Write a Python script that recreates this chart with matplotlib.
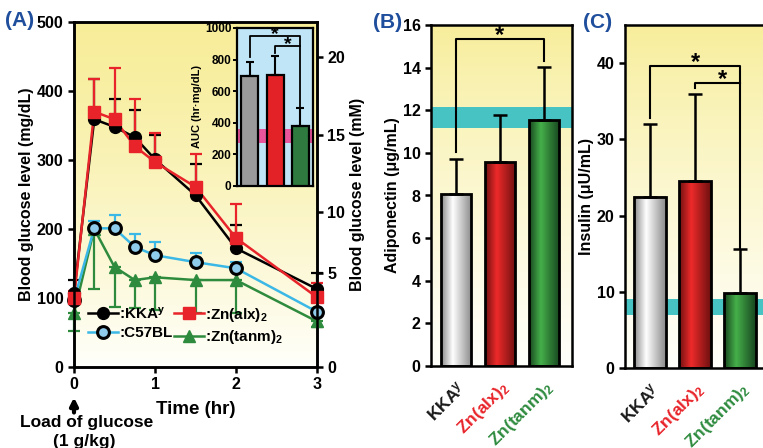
import numpy as np
import matplotlib
matplotlib.use("Agg")
import matplotlib.pyplot as plt
from matplotlib.colors import LinearSegmentedColormap
from matplotlib.lines import Line2D

plt.rcParams["font.family"] = ["Liberation Sans", "DejaVu Sans"]
plt.rcParams["font.weight"] = "bold"
plt.rcParams["mathtext.fontset"] = "custom"
plt.rcParams["mathtext.rm"] = "Liberation Sans:bold"
plt.rcParams["mathtext.it"] = "Liberation Sans:bold"
plt.rcParams["mathtext.bf"] = "Liberation Sans:bold"
plt.rcParams["axes.linewidth"] = 1.8

# ---- data ----
time_hr = [0, 0.25, 0.5, 0.75, 1, 1.5, 2, 3]
kkay = [107, 359, 348, 333, 301, 249, 172, 113]
kkay_err = [19, 58, 40, 39, 35, 45, 34, 23]
alx = [100, 370, 359, 320, 297, 261, 187, 101]
alx_err = [10, 47, 74, 68, 42, 47, 49, 21]
c57 = [97, 201, 201, 174, 162, 152, 143, 80]
c57_err = [8, 11, 19, 19, 19, 13, 9, 6]
tanm = [78, 200, 145, 126, 130, 126, 126, 66]
tanm_err = [26, 87, 58, 40, 47, 48, 48, 8]   # drawn downward

mM_ticks = ["0", "5", "10", "15", "20"]
mM_pos = [0, 136, 225, 336, 449]  # where the original puts them, in mg/dL units

groups = [r"KKA$^{y}$", r"Zn(alx)$_{2}$", r"Zn(tanm)$_{2}$"]
group_colors = ["#1a1a1a", "#e8242a", "#2e8b3e"]
auc = [695, 705, 380]
auc_err = [90, 120, 115]
auc_normal = (270, 360)
adipo = [8.05, 9.55, 11.55]
adipo_err = [1.65, 2.25, 2.5]
adipo_normal = (11.15, 12.15)
insulin = [22.5, 24.5, 9.8]
insulin_err = [9.5, 11.5, 5.8]
insulin_normal = (7.0, 9.0)

BLUE_LBL = "#1f4e9c"
CYAN = "#48c3c3"


def yellow_bg(ax, top=(0.97, 0.93, 0.60), bottom=(1.0, 1.0, 0.985), power=1.3):
    t = np.linspace(0, 1, 256) ** power
    rgb = np.array(top)[None, :] * (1 - t[:, None]) + np.array(bottom)[None, :] * t[:, None]
    ax.imshow(rgb[:, None, :], extent=(0, 1, 0, 1), transform=ax.transAxes,
              aspect="auto", zorder=0, interpolation="bilinear")


def shaded_bars(ax, vals, errs, width, shades):
    x = np.arange(len(vals))
    bars = ax.bar(x, vals, width, facecolor="none", edgecolor="black", lw=2.0, zorder=3)
    for b, (dark, light) in zip(bars, shades):
        cmap = LinearSegmentedColormap.from_list("s", [(0, dark), (0.38, light), (1, dark)])
        x0, y0 = b.get_x(), b.get_y()
        im = ax.imshow(np.linspace(0, 1, 128)[None, :], cmap=cmap, aspect="auto",
                       extent=(x0, x0 + b.get_width(), y0, y0 + b.get_height()), zorder=2)
        im.set_clip_path(b)
    ax.errorbar(x, vals, yerr=[np.zeros(len(vals)), errs], fmt="none", ecolor="black",
                elinewidth=1.8, capsize=5, capthick=1.8, zorder=4)


def bracket(ax, x0, x1, y, y0_end, y1_end, lw=1.5):
    ax.plot([x0, x0, x1, x1], [y0_end, y, y, y1_end], color="black", lw=lw, zorder=5,
            clip_on=False)


fig = plt.figure(figsize=(7.63, 4.48), dpi=100)

# ================= Panel A =================
axA = fig.add_axes([74 / 763, 1 - 367 / 448, 243 / 763, 345 / 448])
yellow_bg(axA)
series = [
    (tanm, tanm_err, "down", "#2e8b3e", "^", "#2e8b3e", "#2e8b3e", r":Zn(tanm)$_{2}$"),
    (c57, c57_err, "up", "#3cb8e6", "o", "#8fcbea", "black", ":C57BL"),
    (kkay, kkay_err, "up", "black", "o", "black", "black", r":KKA$^{y}$"),
    (alx, alx_err, "up", "#e8242a", "s", "#e8242a", "#e8242a", r":Zn(alx)$_{2}$"),
]
handles = {}
for vals, err, d, col, mk, fc, ec, lab in series:
    zeros = np.zeros(len(err))
    yerr = [err, zeros] if d == "down" else [zeros, err]
    axA.errorbar(time_hr, vals, yerr=yerr, fmt="none", ecolor=col, elinewidth=1.6,
                 capsize=4, capthick=1.6, zorder=3, clip_on=False)
    axA.plot(time_hr, vals, color=col, lw=1.8, zorder=4, clip_on=False)
    ms = 8.5 if mk != "s" else 8
    mew = 2.2 if mk == "o" and fc != "black" else 1.0
    axA.plot(time_hr, vals, ls="none", marker=mk, ms=ms, mfc=fc, mec=ec, mew=mew,
             zorder=5, clip_on=False)
    handles[lab] = Line2D([], [], color=col, lw=1.8, marker=mk, ms=ms, mfc=fc, mec=ec,
                          mew=mew)
axA.set_xlim(0, 3)
axA.set_ylim(0, 500)
axA.set_xticks([0, 1, 2, 3])
axA.set_yticks(range(0, 501, 100))
axA.tick_params(direction="out", length=4, width=1.8, labelsize=11.5)
axA.set_ylabel("Blood glucose level (mg/dL)", fontsize=11.5, fontweight="bold", labelpad=2)
axA.set_xlabel("Time (hr)", fontsize=13.5, fontweight="bold", labelpad=6)
order = [r":KKA$^{y}$", ":C57BL", r":Zn(alx)$_{2}$", r":Zn(tanm)$_{2}$"]
axA.legend([handles[k] for k in order], order, ncol=2, loc="lower left",
           bbox_to_anchor=(0.0, 0.02), frameon=False, fontsize=11,
           handlelength=2.0, handletextpad=0.05, columnspacing=0.1, labelspacing=0.3)

axA2 = axA.twinx()
axA2.set_ylim(0, 500)
axA2.set_yticks(mM_pos)
axA2.set_yticklabels(mM_ticks)
axA2.tick_params(direction="out", length=4, width=1.8, labelsize=11.5)
axA2.set_ylabel("Blood glucose level (mM)", fontsize=11.5, fontweight="bold", labelpad=3)

fig.text(5 / 763, 1 - 21 / 448, "(A)", color=BLUE_LBL, fontsize=15, fontweight="bold",
         va="center", ha="left")
axA.annotate("", xy=(0, -0.08), xytext=(0, -0.14), xycoords="axes fraction",
             arrowprops=dict(arrowstyle="-|>", color="black", lw=3, mutation_scale=11),
             annotation_clip=False)
fig.text(87 / 763, 1 - 422 / 448, "Load of glucose", fontsize=12.5, fontweight="bold",
         ha="center", va="center")
fig.text(84 / 763, 1 - 441 / 448, "(1 g/kg)", fontsize=12.5, fontweight="bold",
         ha="center", va="center")

# inset AUC
axI = fig.add_axes([237 / 763, 1 - 186 / 448, 76 / 763, 158 / 448])
axI.set_facecolor("#bfe5f6")
axI.axhspan(*auc_normal, color="#e9559a", lw=0, zorder=1)
xi = np.arange(len(auc))
axI.bar(xi, auc, 0.67, color=["#9a9a9a", "#e32227", "#2f7a3e"], edgecolor="black",
        lw=1.6, zorder=3)
axI.errorbar(xi, auc, yerr=[np.zeros(3), auc_err], fmt="none", ecolor="black",
             elinewidth=1.5, capsize=3, capthick=1.5, zorder=4)
bracket(axI, 0, 2, 949, 816, 495, lw=1.3)
bracket(axI, 1, 2, 886, 842, 886, lw=1.3)
axI.text(1.0, 905, "*", ha="center", va="bottom", fontsize=14, fontweight="bold")
axI.text(1.5, 842, "*", ha="center", va="bottom", fontsize=14, fontweight="bold")
axI.set_xlim(-0.51, 2.5)
axI.set_ylim(0, 1000)
axI.set_xticks([])
axI.set_yticks(range(0, 1001, 200))
axI.tick_params(direction="out", length=3, width=1.4, labelsize=8.5, pad=1)
for s in axI.spines.values():
    s.set_linewidth(1.6)
axI.set_ylabel("AUC (hr·mg/dL)", fontsize=8, fontweight="bold", labelpad=2)

# ================= Panel B =================
axB = fig.add_axes([431 / 763, 1 - 366 / 448, 141 / 763, 341 / 448])
yellow_bg(axB, power=0.8)
axB.axhspan(*adipo_normal, color=CYAN, lw=0, zorder=1)
shades = [("#8a8a8a", "#ffffff"), ("#6e1010", "#ee2a2a"), ("#17451f", "#45b04a")]
shaded_bars(axB, adipo, adipo_err, 0.7, shades)
bracket(axB, 0, 2, 15.35, 10.05, 14.3)
axB.text(1.0, 14.95, "*", ha="center", va="bottom", fontsize=17, fontweight="bold")
axB.set_xlim(-0.57, 2.64)
axB.set_ylim(0, 16)
axB.set_yticks(range(0, 17, 2))
axB.set_xticks(range(3))
axB.set_xticklabels(groups, rotation=45, ha="right", rotation_mode="anchor", fontsize=12.5)
for lbl, c in zip(axB.get_xticklabels(), group_colors):
    lbl.set_color(c)
axB.tick_params(axis="y", direction="out", length=4, width=1.8, labelsize=11.5)
axB.tick_params(axis="x", length=0, pad=9)
axB.set_ylabel("Adiponectin (μg/mL)", fontsize=11.5, fontweight="bold", labelpad=2)
fig.text(373 / 763, 1 - 22 / 448, "(B)", color=BLUE_LBL, fontsize=15, fontweight="bold",
         va="center", ha="left")

# ================= Panel C =================
axC = fig.add_axes([625 / 763, 1 - 368 / 448, 180 / 763, 343 / 448])
yellow_bg(axC, power=0.8)
axC.axhspan(*insulin_normal, color=CYAN, lw=0, zorder=1)
shaded_bars(axC, insulin, insulin_err, 0.71, shades)
bracket(axC, 0, 2, 39.6, 32.8, 15.6)
bracket(axC, 1, 2, 37.4, 36.8, 37.4)
axC.text(1.0, 38.6, "*", ha="center", va="bottom", fontsize=17, fontweight="bold")
axC.text(1.6, 36.4, "*", ha="center", va="bottom", fontsize=17, fontweight="bold")
axC.set_xlim(-0.556, (805 - 650) / 45)
axC.set_ylim(0, 45)
axC.set_yticks(range(0, 41, 10))
axC.set_xticks(range(3))
axC.set_xticklabels(groups, rotation=45, ha="right", rotation_mode="anchor", fontsize=12.5)
for lbl, c in zip(axC.get_xticklabels(), group_colors):
    lbl.set_color(c)
axC.tick_params(axis="y", direction="out", length=4, width=1.8, labelsize=11.5)
axC.tick_params(axis="x", length=0, pad=9)
axC.set_ylabel("Insulin (μU/mL)", fontsize=11.5, fontweight="bold", labelpad=2)
fig.text(583 / 763, 1 - 22 / 448, "(C)", color=BLUE_LBL, fontsize=15, fontweight="bold",
         va="center", ha="left")

fig.savefig("out.png", dpi=100)
